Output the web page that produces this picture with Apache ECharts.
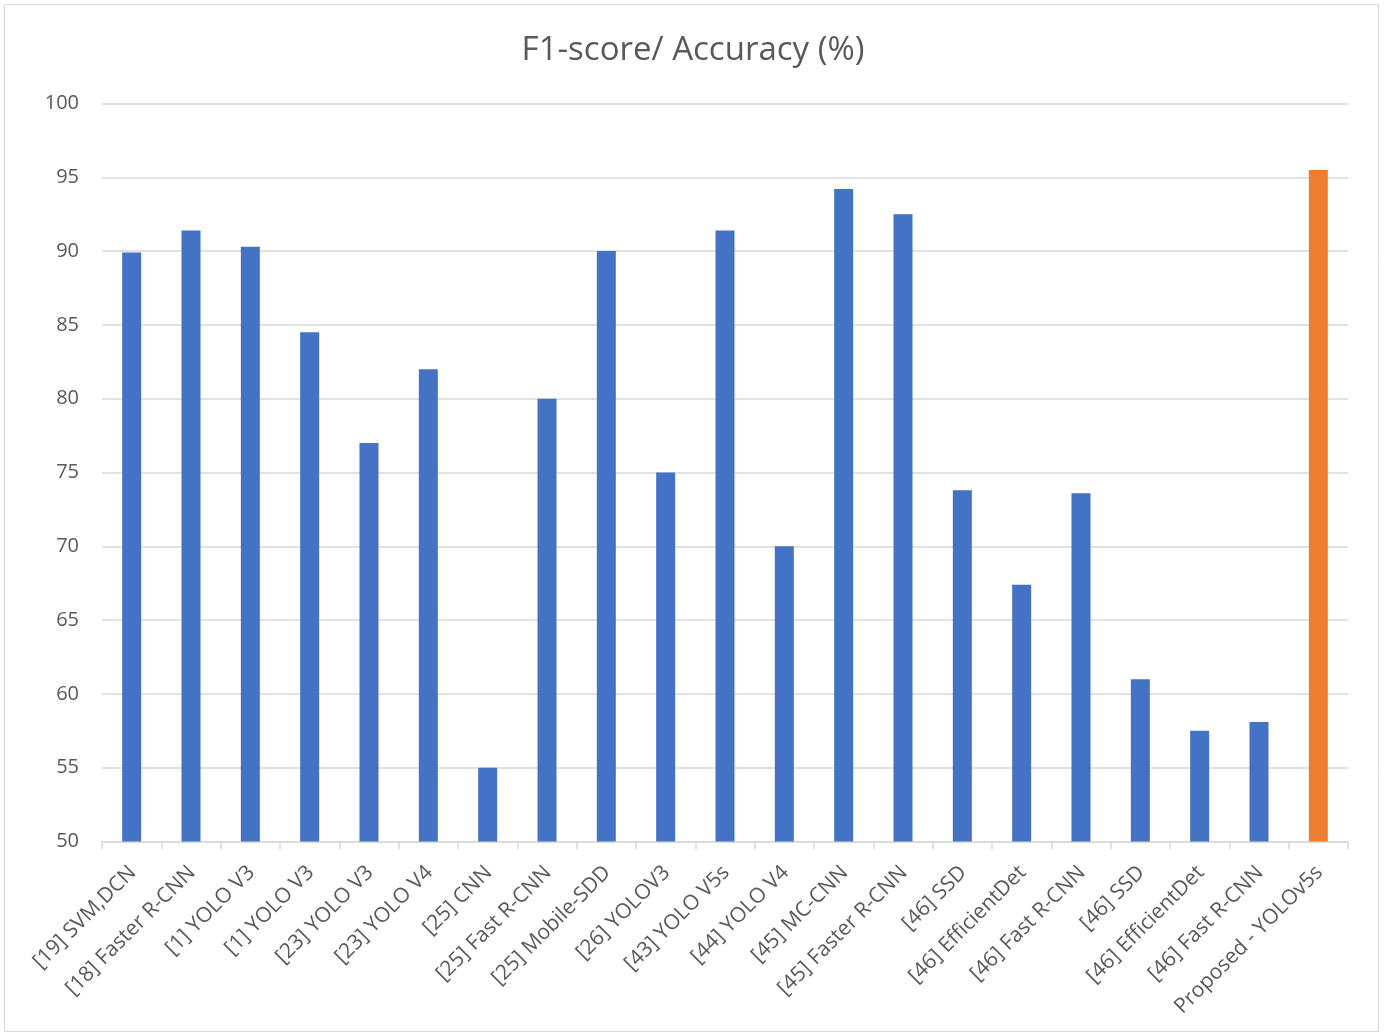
<!DOCTYPE html>
<html>
<head>
<meta charset="utf-8">
<title>F1-score/ Accuracy (%)</title>
<script src="https://cdn.jsdelivr.net/npm/echarts@6/dist/echarts.min.js"></script>
<style>
  html, body { margin: 0; padding: 0; background: #ffffff; }
  #chart { width: 1386px; height: 1034px; }
</style>
</head>
<body>
<div id="chart"></div>
<script>
// Methods compared, in axis order
const categories = [
  '[19] SVM,DCN', '[18] Faster R-CNN', '[1] YOLO V3', '[1] YOLO V3',
  '[23] YOLO V3', '[23] YOLO V4', '[25] CNN', '[25] Fast R-CNN',
  '[25] Mobile-SDD', '[26] YOLOV3', '[43] YOLO V5s', '[44] YOLO V4',
  '[45] MC-CNN', '[45] Faster R-CNN', '[46] SSD', '[46] EfficientDet',
  '[46] Fast R-CNN', '[46] SSD', '[46] EfficientDet', '[46] Fast R-CNN',
  'Proposed - YOLOv5s'
];

// F1-score / accuracy per method (%)
const scores = [
  89.9, 91.4, 90.3, 84.5, 77, 82, 55, 80, 90, 75, 91.4, 70,
  94.2, 92.5, 73.8, 67.4, 73.6, 61, 57.5, 58.1, 95.5
];

// Value axis range and step
const yTicks = [50, 55, 60, 65, 70, 75, 80, 85, 90, 95, 100];

const proposedName = 'Proposed - YOLOv5s';
const baseColor = '#4472C4';
const proposedColor = '#ED7D31';
const textColor = '#595959';
const fontFamily = '"Open Sans", "Noto Sans", sans-serif';

const chart = echarts.init(document.getElementById('chart'), null, { renderer: 'canvas' });

chart.setOption({
  backgroundColor: '#ffffff',
  animation: false,
  title: {
    text: 'F1-score/ Accuracy (%)',
    left: 'center',
    top: 29,
    textStyle: { color: textColor, fontSize: 33, fontWeight: 'normal', fontFamily: fontFamily }
  },
  graphic: [{
    type: 'rect',
    shape: { x: 4.5, y: 4.5, width: 1374, height: 1027 },
    style: { fill: 'none', stroke: '#d9d9d9', lineWidth: 1 },
    silent: true,
    z: -1
  }],
  grid: { left: 102, right: 38, top: 103.5, bottom: 192.5, containLabel: false },
  xAxis: {
    type: 'category',
    data: categories,
    axisLine: { lineStyle: { color: '#d9d9d9', width: 1.5 } },
    axisTick: { show: true, alignWithLabel: false, length: 8, lineStyle: { color: '#d9d9d9', width: 1.5 } },
    axisLabel: {
      interval: 0,
      rotate: 45,
      margin: 14,
      verticalAlign: 'top',
      padding: [0, 9, 0, 0],
      color: textColor,
      fontSize: 21,
      fontFamily: fontFamily
    }
  },
  yAxis: {
    type: 'value',
    min: yTicks[0],
    max: yTicks[yTicks.length - 1],
    interval: yTicks[1] - yTicks[0],
    axisLine: { show: false },
    axisTick: { show: false },
    splitLine: { lineStyle: { color: '#d9d9d9', width: 1.5 } },
    axisLabel: { color: textColor, fontSize: 20, margin: 23, fontFamily: fontFamily }
  },
  series: [{
    type: 'bar',
    barWidth: 19,
    data: scores.map((v, i) => ({
      value: v,
      itemStyle: { color: categories[i] === proposedName ? proposedColor : baseColor }
    }))
  }]
});
</script>
</body>
</html>
